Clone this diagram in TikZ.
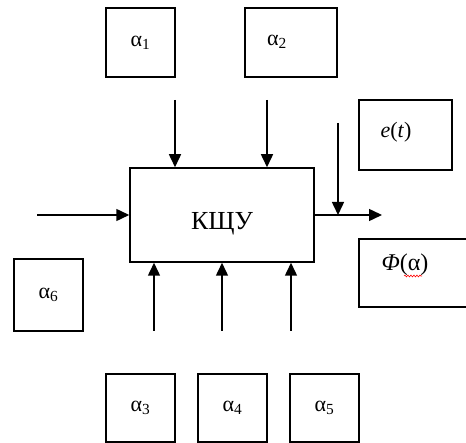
\documentclass[tikz,border=0pt]{standalone}
\usepackage{fontspec}
\setmainfont{Liberation Serif}
\usetikzlibrary{arrows.meta,decorations.pathmorphing}
\newcommand{\al}[1]{α\textsubscript{#1}}
\begin{document}
\begin{tikzpicture}[x=1pt,y=-1pt,
  box/.style={draw,line width=1.5pt,inner sep=0pt},
  sq/.style={box,minimum width=69pt,minimum height=69pt},
  flow/.style={line width=1.5pt,-{Triangle[length=13pt,width=12pt]}},
  lbl/.style={font=\fontsize{22}{24}\selectfont}]
\useasboundingbox (0,0) rectangle (466,443);

% control unit
\node[box,minimum width=184pt,minimum height=94pt] (m) at (222,215) {};
\node[font=\fontsize{26}{28}\selectfont] (mt) at (222,224) {КЩУ};

% parameter boxes
\node[sq,lbl] (a1) at (140.5,42.5) {\al{1}};
\node[box,minimum width=92pt,minimum height=69pt] (a2) at (291,42.5) {};
\node[lbl] (a2t) at (277,42) {\al{2}};
\node[box,minimum width=93pt,minimum height=70pt] (e) at (405.5,135) {};
\node[lbl] (et) at (396,132) {\textit{e}(\textit{t})};
\node[box,minimum width=112pt,minimum height=68pt] (f) at (415,273) {};
\node[lbl,font=\fontsize{24}{26}\selectfont] (ft) at (405,265) {\textit{Φ}(α)};
\node[sq,lbl,minimum height=72pt] (a6) at (48.5,295) {\al{6}};
\node[sq,lbl,minimum height=68pt] (a3) at (140.5,408) {\al{3}};
\node[sq,lbl,minimum height=68pt] (a4) at (232.5,408) {\al{4}};
\node[sq,lbl,minimum height=68pt] (a5) at (324.5,408) {\al{5}};

% spelling squiggle under the alpha
\draw[red,line width=0.6pt,decorate,decoration={snake,amplitude=0.9pt,segment length=3pt}]
  ([xshift=-1pt,yshift=-11pt]ft.center) -- ([xshift=17pt,yshift=-11pt]ft.center);

% free ends of the connectors
\coordinate (t1) at (175,100);
\coordinate (t2) at (267,100);
\coordinate (in) at (37,215);
\coordinate (out) at (382,215);
\coordinate (et0) at (338,123);
\coordinate (ej) at (338,215);
\coordinate (b1) at (154,331);
\coordinate (b2) at (222,331);
\coordinate (b3) at (291,331);

\draw[flow] (t1) -- (t1 |- m.north);
\draw[flow] (t2) -- (t2 |- m.north);
\draw[flow] (in) -- (m.west);
\draw[flow] (m.east) -- (out);
\draw[flow] (et0) -- (ej);
\draw[flow] (b1) -- (b1 |- m.south);
\draw[flow] (b2) -- (b2 |- m.south);
\draw[flow] (b3) -- (b3 |- m.south);
\end{tikzpicture}
\end{document}
